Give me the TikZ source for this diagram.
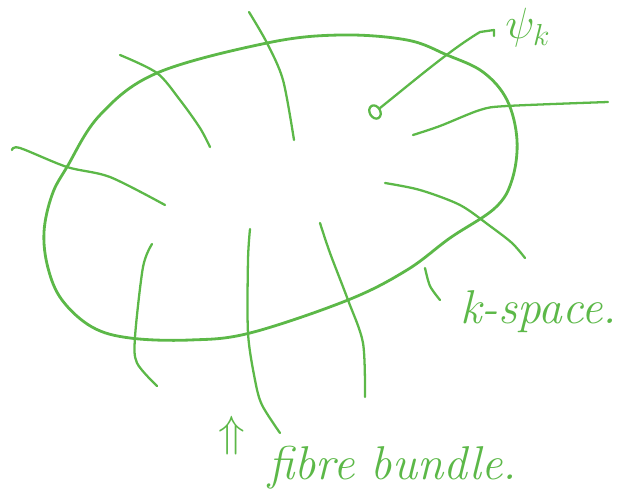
\documentclass[tikz,border=0pt]{standalone}
\usetikzlibrary{shapes.geometric}
\definecolor{ink}{RGB}{92,184,72}
\tikzset{
  pen/.style={ink,line width=1.3pt,line cap=round,line join=round},
  handtext/.style={ink,font=\fontsize{27}{30}\selectfont\itshape,inner sep=0pt}
}
\begin{document}
\begin{tikzpicture}[x=0.02cm,y=-0.02cm]
        \useasboundingbox (0,0) rectangle (630,504);
        % base space
        \draw[pen,line width=1.6pt] plot[smooth cycle,tension=0.6] coordinates {
          (157,73) (267,43) (340,35) (407,40) (447,55) (483,72) (507,100)
          (517,140) (512,180) (495,208) (450,238) (407,270) (348,300)
          (250,333) (190,340) (130,338) (92,327) (62,300) (48,268)
          (44,232) (52,195) (67,167) (100,115)};
        % fibres
        \draw[pen] plot[smooth] coordinates {(12,150) (20,148) (67,167) (110,177) (165,205)};
        \draw[pen] plot[smooth] coordinates {(120,55) (157,73) (180,100) (200,128) (210,147)};
        \draw[pen] plot[smooth] coordinates {(249,12) (267,43) (283,80) (294,140)};
        \draw[pen] plot[smooth] coordinates {(413,135) (440,126) (480,110) (507,106) (608,102)};
        \draw[pen] plot[smooth] coordinates {(385,183) (420,190) (460,205) (490,226) (512,243) (525,258)};
        \draw[pen] plot[smooth] coordinates {(425,268) (430,286) (440,300)};
        \draw[pen] plot[smooth] coordinates {(152,244) (143,267) (135,337) (137,363) (157,386)};
        \draw[pen] plot[smooth] coordinates {(250,229) (248,260) (248,333) (255,380) (262,405) (280,433)};
        \draw[pen] plot[smooth] coordinates {(320,223) (330,253) (348,300) (363,343) (365,397)};
        % state at a point
        \node[pen,ellipse,draw,minimum width=6pt,minimum height=8pt,inner sep=0pt,rotate=30] (psipt) at (375,112) {};
        \coordinate (psiend) at (494,30);
        \draw[pen] (psipt) .. controls (415,80) and (450,50) .. (480,32) -- (psiend) -- (494,36);
        % labels
        \node[handtext,anchor=west] (psilbl) at (505,28) {$\psi_k$};
        \node[handtext,anchor=west] (kspace) at (460,312) {k-space.};
        \node[handtext,anchor=west] (fibre) at (268,468) {fibre bundle.};
        \node[handtext,font=\fontsize{40}{44}\selectfont] (uparr) at (232,436) {$\Uparrow$};
\end{tikzpicture}
\end{document}
